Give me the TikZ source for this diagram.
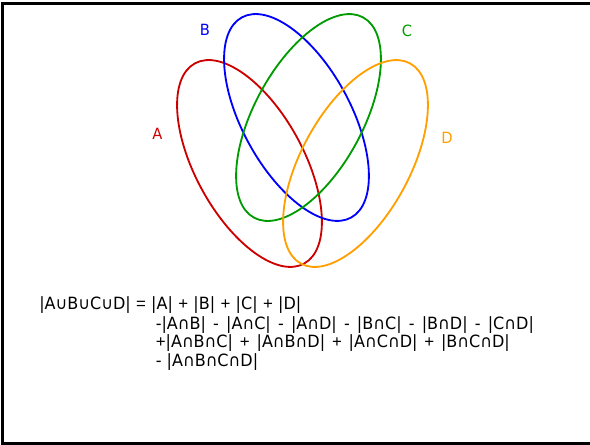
\documentclass[tikz,border=0pt]{standalone}
\usepackage{fontspec}
\setmainfont{DejaVu Sans}[FakeStretch=0.95]
\newfontfamily\opfont{Liberation Sans}
\usepackage{xcolor}
\usepackage{tikz}
\usetikzlibrary{positioning}

\definecolor{setred}{RGB}{204,0,0}
\definecolor{setblue}{RGB}{0,0,255}
\definecolor{setgreen}{RGB}{0,155,0}
\definecolor{setorange}{RGB}{255,160,0}

\newcommand{\pl}{{\opfont +}}
\newcommand{\eq}{{\opfont =}}

\begin{document}
\begin{tikzpicture}[x=0.025cm, y=0.025cm, node distance=0.46cm, on grid,
        venn/.style={line width=1.3pt},
        setlabel/.style={font=\fontsize{11}{13}\selectfont, inner sep=0pt},
        formula/.style={font=\fontsize{12}{14}\selectfont, inner sep=0pt, anchor=west}]
        \useasboundingbox (0,0) rectangle (590,445);
        \draw[line width=2.1pt] (592,441.5) -- (2.5,441.5) -- (2.5,1.3) -- (592,1.3);

        \coordinate (cA) at (249.5,281.5);
        \coordinate (cB) at (296.5,327.5);
        \coordinate (cC) at (308.5,327.5);
        \coordinate (cD) at (355.5,281.5);

        \draw[venn, setred, rotate around={-61.4:(cA)}] (cA) ellipse [x radius=2.85cm, y radius=1.355cm];
        \draw[venn, setblue, rotate around={-61.4:(cB)}] (cB) ellipse [x radius=2.85cm, y radius=1.355cm];
        \draw[venn, setgreen, rotate around={61.4:(cC)}] (cC) ellipse [x radius=2.85cm, y radius=1.355cm];
        \draw[venn, setorange, rotate around={61.4:(cD)}] (cD) ellipse [x radius=2.85cm, y radius=1.355cm];

        \node[setlabel, text=setred] (lA) at (157.5,311) {A};
        \node[setlabel, text=setblue] (lB) at (205,415) {B};
        \node[setlabel, text=setgreen] (lC) at (407,414.5) {C};
        \node[setlabel, text=setorange] (lD) at (447,307.5) {D};

        \node[formula] (l1) at (39,139.5) {\makebox[6.55cm][s]{|A∪B∪C∪D| \eq{} |A| \pl{} |B| \pl{} |C| \pl{} |D|}};
        \node[formula] (l2) at (155.5,120) {\makebox[9.45cm][s]{-|A∩B| - |A∩C| - |A∩D| - |B∩C| - |B∩D| - |C∩D|}};
        \node[formula, below=of l2.west, anchor=west] (l3) {\makebox[8.85cm][s]{\pl|A∩B∩C| \pl{} |A∩B∩D| \pl{} |A∩C∩D| \pl{} |B∩C∩D|}};
        \node[formula, below=of l3.west, anchor=west] (l4) {- |A∩B∩C∩D|};

    \end{tikzpicture}
\end{document}
